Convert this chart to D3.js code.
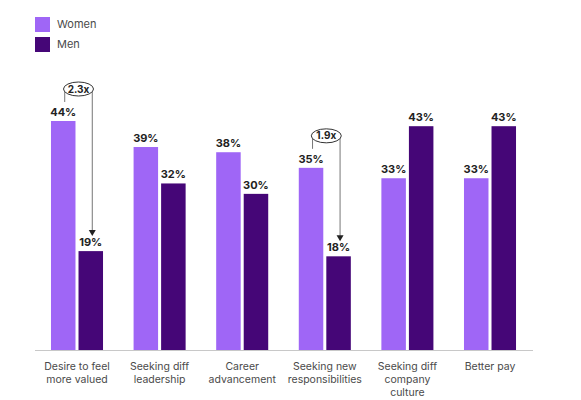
<!DOCTYPE html>
<html>
  <head>
    <meta charset="utf-8">
    <title>Reasons for leaving</title>
    <script src="https://cdn.jsdelivr.net/npm/d3@7"></script>
  </head>

  <style>
    body {
      margin: 0;
      background: #ffffff;
    }
    text {
      font-family: Inter, "Noto Sans", Arial, sans-serif;
    }
  </style>

  <body>
    <script>

      // data
      var categories = [
        "Desire to feel more valued",
        "Seeking diff leadership",
        "Career advancement",
        "Seeking new responsibilities",
        "Seeking diff company culture",
        "Better pay"
      ];
      var categoryLines = [
        ["Desire to feel", "more valued"],
        ["Seeking diff", "leadership"],
        ["Career", "advancement"],
        ["Seeking new", "responsibilities"],
        ["Seeking diff", "company", "culture"],
        ["Better pay"]
      ];
      var seriesNames = ["Women", "Men"];
      var women = [44, 39, 38, 35, 33, 33];
      var men = [19, 32, 30, 18, 43, 43];
      var ratioCategories = ["Desire to feel more valued", "Seeking new responsibilities"];
      var ratioLabels = ["2.3x", "1.9x"];

      var colors = ["#9f66f6", "#450677"];

      var width = 581,
        height = 400;

      var svg = d3.select("body")
        .append("svg")
        .attr("width", width)
        .attr("height", height);

      var rows = categories.map(function (c, i) {
        return { cat: c, lines: categoryLines[i], values: [women[i], men[i]] };
      });

      var x0 = d3.scaleBand()
        .domain(categories)
        .range([35.7, 531.3])
        .paddingInner(0.37)
        .paddingOuter(0.185);

      var x1 = d3.scaleBand()
        .domain(seriesNames)
        .range([0, x0.bandwidth()])
        .paddingInner(0.11);

      var y = d3.scaleLinear()
        .domain([0, 44])
        .range([350, 121]);

      // legend
      var legend = svg.selectAll(".legend")
        .data(seriesNames)
        .enter()
        .append("g")
        .attr("class", "legend")
        .attr("transform", (d, i) => "translate(35," + (17 + i * 20) + ")");

      legend.append("rect")
        .attr("width", 15)
        .attr("height", 15)
        .attr("fill", (d, i) => colors[i]);

      legend.append("text")
        .attr("x", 22)
        .attr("y", 7.5)
        .attr("dy", "0.35em")
        .attr("font-size", 11)
        .attr("fill", "#4a4a4a")
        .text(d => d);

      // bars
      var group = svg.selectAll(".group")
        .data(rows)
        .enter()
        .append("g")
        .attr("class", "group")
        .attr("transform", d => "translate(" + x0(d.cat) + ",0)");

      var bar = group.selectAll(".bar")
        .data(d => d.values.map((v, i) => ({ key: seriesNames[i], value: v, i: i })))
        .enter()
        .append("g")
        .attr("class", "bar");

      bar.append("rect")
        .attr("x", d => x1(d.key))
        .attr("y", d => y(d.value))
        .attr("width", x1.bandwidth())
        .attr("height", d => y(0) - y(d.value))
        .attr("fill", d => colors[d.i]);

      bar.append("text")
        .attr("x", d => x1(d.key) + x1.bandwidth() / 2)
        .attr("y", d => y(d.value) - 5)
        .attr("text-anchor", "middle")
        .attr("font-size", 11)
        .attr("font-weight", 700)
        .attr("fill", "#222")
        .text(d => d.value + "%");

      // baseline
      svg.append("line")
        .attr("x1", 35)
        .attr("x2", 533)
        .attr("y1", y(0) + 0.5)
        .attr("y2", y(0) + 0.5)
        .attr("stroke", "#c8c8c8")
        .attr("stroke-width", 1);

      // category labels
      group.append("text")
        .attr("text-anchor", "middle")
        .attr("font-size", 10.5)
        .attr("fill", "#4a4a4a")
        .selectAll("tspan")
        .data(d => d.lines)
        .enter()
        .append("tspan")
        .attr("x", x0.bandwidth() / 2)
        .attr("y", (d, i) => 370 + i * 13)
        .text(d => d);

      // ratio callouts
      var notes = ratioCategories.map((c, i) => {
        var idx = categories.indexOf(c);
        return { cat: c, label: ratioLabels[i], w: women[idx], m: men[idx] };
      });

      var note = svg.selectAll(".note")
        .data(notes)
        .enter()
        .append("g")
        .attr("class", "note")
        .attr("transform", d => "translate(" + x0(d.cat) + ",0)");

      var wx = x1("Women") + x1.bandwidth() / 2 + 1.5,
        mx = x1("Men") + x1.bandwidth() / 2 + 1.5;

      note.append("line")
        .attr("x1", wx).attr("x2", wx)
        .attr("y1", d => y(d.w) - 32)
        .attr("y2", d => y(d.w) - 19)
        .attr("stroke", "#666")
        .attr("stroke-width", 0.9);

      note.append("line")
        .attr("x1", mx).attr("x2", mx)
        .attr("y1", d => y(d.w) - 32)
        .attr("y2", d => y(d.m) - 20)
        .attr("stroke", "#666")
        .attr("stroke-width", 0.9);

      note.append("path")
        .attr("d", d => {
          var ty = y(d.m) - 15;
          return "M" + (mx - 3.5) + "," + (ty - 6) + "L" + (mx + 3.5) + "," + (ty - 6) + "L" + mx + "," + ty + "Z";
        })
        .attr("fill", "#222");

      note.append("ellipse")
        .attr("cx", (wx + mx) / 2)
        .attr("cy", d => y(d.w) - 32)
        .attr("rx", 15)
        .attr("ry", 7)
        .attr("fill", "#fff")
        .attr("stroke", "#333")
        .attr("stroke-width", 1);

      note.append("text")
        .attr("x", (wx + mx) / 2)
        .attr("y", d => y(d.w) - 32)
        .attr("dy", "0.35em")
        .attr("text-anchor", "middle")
        .attr("font-size", 10)
        .attr("font-weight", 700)
        .attr("fill", "#222")
        .text(d => d.label);

    </script>
  </body>
</html>
